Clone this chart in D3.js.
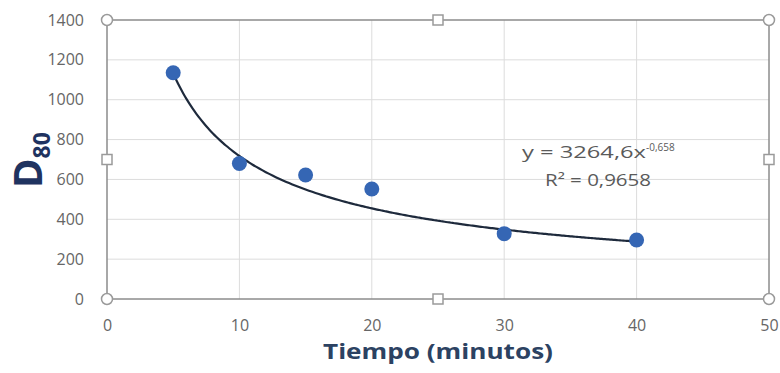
<!DOCTYPE html>
<html>
<head>
<meta charset="utf-8">
<script src="https://cdn.jsdelivr.net/npm/d3@7"></script>
<style>
  body { margin: 0; background: #fff; }
  svg { display: block; }
</style>
</head>
<body>
<div id="chart"></div>
<script>
// data
var tiempo = [5, 10, 15, 20, 30, 40];
var d80 = [1135, 680, 622, 552, 328, 296];
var xTicks = [0, 10, 20, 30, 40, 50];
var yTicks = [0, 200, 400, 600, 800, 1000, 1200, 1400];
var fitA = 3264.6, fitB = -0.658;
var eqText = "y = 3264,6x", eqExp = "-0,658", r2Text = "R² = 0,9658";

var W = 780, H = 373;
var area = { l: 107, r: 769, t: 20, b: 299 };
var color = {
  grid: "#dcdcdc",
  border: "#8c8c8c",
  tick: "#666666",
  point: "#3566b4",
  trend: "#1e2a3c",
  title: "#2c4262",
  ytitle: "#1f3360"
};

var svg = d3.select("#chart").append("svg").attr("width", W).attr("height", H);

var x = d3.scaleLinear().domain([0, 50]).range([area.l, area.r]);
var y = d3.scaleLinear().domain([0, 1400]).range([area.b, area.t]);

// grid
var grid = svg.append("g").attr("id", "grid");
grid.selectAll("line.gx").data(xTicks.slice(1, -1)).enter().append("line")
    .attr("class", "gx").attr("stroke", color.grid).attr("stroke-width", 1)
    .attr("x1", function(d) { return x(d); }).attr("x2", function(d) { return x(d); })
    .attr("y1", area.t).attr("y2", area.b);
grid.selectAll("line.gy").data(yTicks.slice(1, -1)).enter().append("line")
    .attr("class", "gy").attr("stroke", color.grid).attr("stroke-width", 1)
    .attr("x1", area.l).attr("x2", area.r)
    .attr("y1", function(d) { return y(d); }).attr("y2", function(d) { return y(d); });

// axes (labels only, lines drawn as plot border)
var xAxis = svg.append("g").attr("transform", "translate(0," + area.b + ")")
    .call(d3.axisBottom(x).tickValues(xTicks).tickSize(0).tickPadding(21).tickFormat(d3.format("d")));
var yAxis = svg.append("g").attr("transform", "translate(" + area.l + ",0)")
    .call(d3.axisLeft(y).tickValues(yTicks).tickSize(0).tickPadding(23).tickFormat(d3.format("d")));
[xAxis, yAxis].forEach(function(a) {
  a.select(".domain").remove();
  a.selectAll("text").attr("font-family", "'Open Sans', sans-serif").attr("font-size", 16)
   .attr("fill", color.tick);
});

// plot border (selected plot area look)
svg.append("rect").attr("x", area.l).attr("y", area.t)
   .attr("width", area.r - area.l).attr("height", area.b - area.t)
   .attr("fill", "none").attr("stroke", color.border).attr("stroke-width", 1.5);

// trendline
var fitX = d3.range(5, 40.01, 0.25);
var line = d3.line().x(function(d) { return x(d); }).y(function(d) { return y(fitA * Math.pow(d, fitB)); })
             .curve(d3.curveMonotoneX);
svg.append("path").datum(fitX).attr("d", line).attr("fill", "none")
   .attr("stroke", color.trend).attr("stroke-width", 2.2);

// points
svg.append("g").selectAll("circle").data(tiempo).enter().append("circle")
   .attr("cx", function(d) { return x(d); })
   .attr("cy", function(d, i) { return y(d80[i]); })
   .attr("r", 7.5).attr("fill", color.point);

// handles
var mx = (area.l + area.r) / 2, my = (area.t + area.b) / 2;
var corners = [[area.l, area.t], [area.r, area.t], [area.l, area.b], [area.r, area.b]];
var mids = [[mx, area.t], [area.l, my], [area.r, my], [mx, area.b]];
svg.append("g").selectAll("circle").data(corners).enter().append("circle")
   .attr("cx", function(d) { return d[0]; }).attr("cy", function(d) { return d[1]; })
   .attr("r", 5.5).attr("fill", "#fff").attr("stroke", "#9a9a9a").attr("stroke-width", 1.5);
svg.append("g").selectAll("rect").data(mids).enter().append("rect")
   .attr("x", function(d) { return d[0] - 5; }).attr("y", function(d) { return d[1] - 5; })
   .attr("width", 10).attr("height", 10)
   .attr("fill", "#fff").attr("stroke", "#9a9a9a").attr("stroke-width", 1.5);

// equation
var eq = svg.append("text").attr("x", 522).attr("y", 158)
   .attr("font-family", "'Open Sans', sans-serif").attr("font-size", 16).attr("fill", "#5a5a5a");
eq.append("tspan").attr("textLength", 124).attr("lengthAdjust", "spacingAndGlyphs").text(eqText);
eq.append("tspan").attr("dy", -7).attr("font-size", 10).text(eqExp);
svg.append("text").attr("x", 545).attr("y", 186)
   .attr("font-family", "'Open Sans', sans-serif").attr("font-size", 16).attr("fill", "#5a5a5a")
   .attr("textLength", 106).attr("lengthAdjust", "spacingAndGlyphs").text(r2Text);

// axis titles
svg.append("text").attr("x", 323).attr("y", 359)
   .attr("font-family", "'Open Sans', sans-serif").attr("font-weight", "bold").attr("font-size", 22)
   .attr("textLength", 230).attr("lengthAdjust", "spacingAndGlyphs")
   .attr("fill", color.title).text("Tiempo (minutos)");
var yt = svg.append("text").attr("transform", "translate(42,188) rotate(-90)")
   .attr("font-family", "'Open Sans', sans-serif").attr("font-weight", "bold").attr("fill", color.ytitle);
yt.append("tspan").attr("font-size", 40).text("D");
yt.append("tspan").attr("font-size", 23).attr("dy", 8).text("80");
</script>
</body>
</html>
